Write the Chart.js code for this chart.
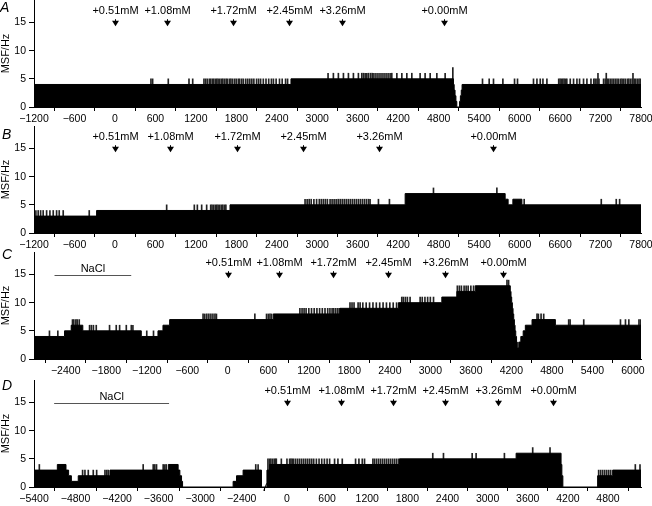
<!DOCTYPE html>
<html>
<head>
<meta charset="utf-8">
<script src="https://cdn.jsdelivr.net/npm/chart.js@4/dist/chart.umd.min.js"></script>
<style>
body { margin: 0; background: #fff; width: 652px; height: 506px; position: relative; overflow: hidden; font-family: "Liberation Sans", Arial, sans-serif; }
canvas { position: absolute; left: 0; }
.lt { position: absolute; font-style: italic; font-size: 14px; line-height: 14px; }
</style>
</head>
<body>
<canvas id="pA" width="652" height="126" style="top:0px"></canvas>
<canvas id="pB" width="652" height="126" style="top:126px"></canvas>
<canvas id="pC" width="652" height="126" style="top:252px"></canvas>
<canvas id="pD" width="652" height="126" style="top:380px"></canvas>
<div class="lt" style="left:0px;top:0px">A</div>
<div class="lt" style="left:2px;top:127px">B</div>
<div class="lt" style="left:2px;top:247px">C</div>
<div class="lt" style="left:2px;top:378px">D</div>
<script>
// tick labels
const ticksAB = [-1200, -600, 0, 600, 1200, 1800, 2400, 3000, 3600, 4200, 4800, 5400, 6000, 6600, 7200, 7800];
const ticksC = [-2400, -1800, -1200, -600, 0, 600, 1200, 1800, 2400, 3000, 3600, 4200, 4800, 5400, 6000];
const ticksD = [-5400, -4800, -4200, -3600, -3000, -2400, 0, 600, 1200, 1800, 2400, 3000, 3600, 4200, 4800];
const yTicks = [0, 5, 10, 15];

// additions (labels + time of each arrow)
const concLabels = ['+0.51mM', '+1.08mM', '+1.72mM', '+2.45mM', '+3.26mM', '+0.00mM'];
const arrowsA = [0, 776, 1755, 2577, 3363, 4881];
const arrowsB = [0, 811, 1808, 2785, 3922, 5604];
const arrowsC = [0, 761, 1562, 2378, 3220, 4070];
const arrowsD = [0, 802, 1583, 2370, 3162, 3973];
const naclC = [-2566, -1430];
const naclD = [-5109, -3449];

// base firing level: [time, MSF] held until next point
const envA = [[-1200,3],[-1185,4],[2610,5],[5019,4],[5030,3],[5043,2],[5056,1],[5069,0],[5110,1],[5122,2],[5135,3],[5147,4],[7800,4]];
const envB = [[-1200,3],[-272,4],[1706,5],[4303,7],[5786,6],[5830,5],[5900,6],[6034,5],[7800,5]];
const envC = [[-2870,4],[-2418,5],[-2319,6],[-2147,5],[-1281,4],[-1034,5],[-960,6],[-861,7],[673,8],[1662,9],[2527,10],[3170,11],[3393,12],[3665,13],
  [4184,12],[4195,11],[4205,10],[4215,9],[4225,8],[4235,7],[4245,6],[4255,5],[4265,4],[4277,3],[4288,2],[4310,3],[4340,4],[4375,5],[4407,6],[4506,7],[4852,6],[6120,6]];
const envD = [[-5400,3],[-5063,4],[-4938,3],[-4900,2],[-4860,1],[-4761,2],[-4303,3],[-3460,4],[-3318,3],[-3293,2],[-3269,1],[-3254,0],
  [-2524,1],[-2475,2],[-2380,3],[-2114,0],
  [-299,3],[-259,4],[1683,5],[3426,6],[4098,4],[4110,2],[4125,0],[4645,2],[4869,3],[5293,3]];

// single spikes, grouped by height
const spA5 = [534,559,791,1098,1153,1320,1345,1370,1400,1420,1445,1465,1490,1510,1530,1555,1580,1600,1625,1650,1670,1700,1720,1745,1775,1800,1830,1850,1880,1905,1940,1970,2000,2030,2060,2100,2130,2160,2200,2240,2280,2320,2350,2390,2440,2480,2530,2560,
  5450,5549,5613,5752,5925,5969,6206,6257,6306,6346,6405,6580,6600,6620,6640,6660,6680,6700,6751,6800,6850,6889,6948,6998,7058,7100,7120,7147,7177,7245,7270,7300,7320,7345,7370,7395,7420,7445,7470,7500,7520,7545,7570,7600,7620,7645,7670,7700,7720,7745,7770,7790];
const spA6 = [3160,3239,3313,3388,3462,3536,3610,3660,3685,3710,3735,3760,3790,3815,3840,3870,3900,3930,3960,3990,4020,4050,4080,4105,4180,4254,4328,4402,4525,4599,4674,4773,4896,7162,7285,7681];
const spA7 = [5010];

const spB4 = [-1172,-1138,-1102,-1064,-1013,-964,-915,-865,-826,-767,-381];
const spB5 = [767,1177,1222,1286,1360,1420,1440,1465,1490,1510,1530,1555,1580,1600,1625,1645];
const spB6 = [2819,2850,2880,2910,2950,2990,3030,3060,3090,3120,3150,3190,3220,3250,3280,3310,3340,3370,3400,3430,3460,3490,3520,3550,3580,3610,3640,3670,3700,3730,3760,3783,3907,4070,6068,7211,7433,7483];
const spB8 = [4723,5663];

const spC5 = [-2641,-2517,-1200,-1100];
const spC6 = [-2047,-2020,-1990,-1948,-1751,-1652,-1602,-1503,-1429,-1405];
const spC7 = [-2300,-2280,-2250,-2230,-2200,5049,5070,5272,5816,5890,5940,6090,6113];
const spC8 = [-366,-340,-310,-280,-250,-220,-190,-168,401,574,600,625,648,4580,4600,4640,4679];
const spC9 = [1068,1100,1130,1160,1200,1240,1280,1320,1360,1400,1440,1480,1513,1545,1570,1600,1630,1655];
const spC10 = [1810,1840,1870,1930,1960,2000,2050,2100,2150,2200,2250,2300,2350,2400,2450,2500];
const spC11 = [2577,2600,2630,2660,2700,2849,2880,2920,2960,3000,3047];
const spC13 = [3400,3430,3460,3500,3530,3560,3600,3640];
const spC14 = [4135,4159];

const spD3 = [-4698,-4664,-4616,-4544,-4495,-4375,-4350,-4328,4660,4690,4720,4750,4780,4810,4840];
const spD4 = [-5323,-3823,-3678,-3655,-3630,-3534,-3510,-3490,-2197,-2163,5208,5278];
const spD5 = [-284,-260,-240,-215,-190,-170,-159,-84,0,40,60,80,100,130,160,190,220,250,280,310,340,370,400,440,480,520,560,600,638,712,762,827,1026,1076,1126,1160,1285,1310,1340,1370,1400,1430,1460,1490,1520,1550,1580,1610,1640,1670];
const spD6 = [2180,2340,2769,2828,3251];
const spD7 = [3674,3933];

// panel D has a broken time axis: the part before the break is squeezed in
const dGap = [-2114, -299];
const toU = v => v > -1000 ? v : -676.5 + (v + 2400) * 1.035;

const FONT = '"Liberation Sans", Arial, sans-serif';
Chart.defaults.font.family = FONT;
Chart.defaults.color = '#000';

const fmt = v => v < 0 ? '\u2212' + Math.abs(v) : String(v);

const marks = {
  id: 'marks',
  afterDatasetsDraw(chart, args, o) {
    const { ctx, scales: { x, y } } = chart;
    const map = o.map;
    ctx.save();
    ctx.fillStyle = '#000';
    ctx.font = '11px ' + FONT;
    ctx.textAlign = 'center';
    ctx.textBaseline = 'middle';
    o.arrows.forEach((v, i) => {
      const px = Math.round(x.getPixelForValue(map(v))) + 0.5;
      ctx.fillText(concLabels[i], px, y.getPixelForValue(17.1));
      const tip = y.getPixelForValue(14.35);
      ctx.beginPath();
      ctx.moveTo(px - 3.5, tip - 5.5);
      ctx.lineTo(px + 3.5, tip - 5.5);
      ctx.lineTo(px, tip);
      ctx.closePath();
      ctx.fill();
      ctx.fillRect(px - 0.5, tip - 7, 1, 2);
    });
    if (o.nacl) {
      const x1 = x.getPixelForValue(map(o.nacl[0])), x2 = x.getPixelForValue(map(o.nacl[1]));
      const ly = Math.round(y.getPixelForValue(15)) + 0.5;
      ctx.strokeStyle = '#555';
      ctx.lineWidth = 1;
      ctx.beginPath(); ctx.moveTo(x1, ly); ctx.lineTo(x2, ly); ctx.stroke();
      ctx.fillText('NaCl', (x1 + x2) / 2, y.getPixelForValue(15.9));
    }
    if (o.gap) {
      const bx = (x.getPixelForValue(map(o.gap[0])) + x.getPixelForValue(map(o.gap[1]))) / 2 + 1;
      const by = y.getPixelForValue(0);
      ctx.strokeStyle = '#000';
      ctx.lineWidth = 1;
      ctx.beginPath(); ctx.moveTo(bx - 1.5, by + 3.7); ctx.lineTo(bx + 1.5, by - 3.7); ctx.stroke();
    }
    ctx.restore();
  }
};

function panel(id, o) {
  const map = o.map || (v => v);
  const pts = o.env.map(p => ({ x: map(p[0]), y: p[1] }));
  const sp = [];
  o.spikes.forEach(([xs, top]) => xs.forEach(v => sp.push({ x: map(v), y: top })));
  const lab = new Map(o.ticks.map(v => [map(v), v]));
  return new Chart(document.getElementById(id), {
    type: 'line',
    data: {
      datasets: [
        { data: pts, stepped: true, fill: 'origin', backgroundColor: '#000', borderColor: '#000', borderWidth: 1, pointRadius: 0, order: 0 },
        { type: 'bar', data: sp, backgroundColor: '#222', barThickness: 1, borderWidth: 0, order: 1 }
      ]
    },
    options: {
      responsive: false, animation: false, devicePixelRatio: 1,
      layout: { padding: { left: 0, right: 11, top: 0, bottom: 0 } },
      plugins: {
        legend: { display: false }, tooltip: { enabled: false },
        marks: { map: map, arrows: o.arrows, nacl: o.nacl, gap: o.gap }
      },
      scales: {
        x: {
          type: 'linear', min: map(o.min), max: map(o.max), offset: false,
          grid: { drawOnChartArea: false, tickLength: 4, color: '#000' },
          border: { color: '#000' },
          afterBuildTicks: s => { s.ticks = o.ticks.map(v => ({ value: map(v) })); },
          afterFit: s => { s.height = 19; s.paddingLeft = 0; s.paddingRight = 0; },
          ticks: { autoSkip: false, maxRotation: 0, minRotation: 0, padding: 2, font: { size: 10.5 },
            callback: v => fmt(lab.has(v) ? lab.get(v) : v) }
        },
        y: {
          min: 0, max: 19,
          grid: { drawOnChartArea: false, tickLength: 5, color: '#000' },
          border: { color: '#000' },
          afterBuildTicks: s => { s.ticks = yTicks.map(v => ({ value: v })); },
          afterFit: s => { s.width = 34; s.paddingTop = 0; s.paddingBottom = 0; },
          ticks: { padding: 3, font: { size: 10.5 } },
          title: { display: true, text: 'MSF/Hz', padding: 0, font: { size: 11, lineHeight: 1 } }
        }
      }
    },
    plugins: [marks]
  });
}

panel('pA', { env: envA, spikes: [[spA5, 5], [spA6, 6], [spA7, 7]], ticks: ticksAB, min: -1200, max: 7800, arrows: arrowsA });
panel('pB', { env: envB, spikes: [[spB4, 4], [spB5, 5], [spB6, 6], [spB8, 8]], ticks: ticksAB, min: -1200, max: 7800, arrows: arrowsB });
panel('pC', { env: envC, spikes: [[spC5, 5], [spC6, 6], [spC7, 7], [spC8, 8], [spC9, 9], [spC10, 10], [spC11, 11], [spC13, 13], [spC14, 14]],
  ticks: ticksC, min: -2870, max: 6120, arrows: arrowsC, nacl: naclC });
panel('pD', { env: envD, spikes: [[spD3, 3], [spD4, 4], [spD5, 5], [spD6, 6], [spD7, 7]], ticks: ticksD, min: -5400, max: 5293,
  arrows: arrowsD, nacl: naclD, map: toU, gap: dGap });
</script>
</body>
</html>
